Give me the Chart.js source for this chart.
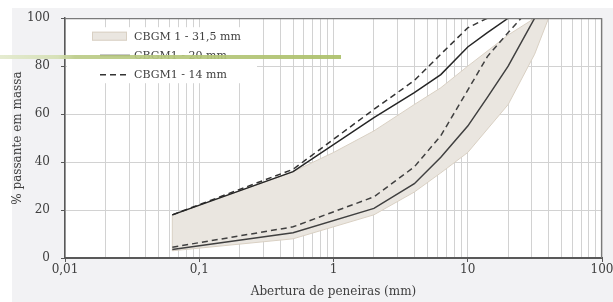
<!DOCTYPE html>
<html>
<head>
<meta charset="utf-8">
<script src="https://cdn.jsdelivr.net/npm/chart.js@4.4.0/dist/chart.umd.min.js"></script>
<style>
  html, body { margin: 0; padding: 0; background: #ffffff; }
  #wrap { position: relative; width: 613px; height: 302px; overflow: hidden; }
  #panel { position: absolute; left: 12px; top: 8px; right: 0; bottom: 0; background: #f2f2f4; }
  #chart { position: absolute; left: 0; top: 0; }
  #marker { position: absolute; left: 0; top: 55px; width: 341px; height: 4px;
            background: linear-gradient(to right, #e3eacd 0%, #d5e0b2 17%, #bccc88 22%, #acc069 100%);
            opacity: 0.92; }
</style>
</head>
<body>
<div id="wrap">
  <div id="panel"></div>
  <canvas id="chart" width="613" height="302"></canvas>
  <div id="marker"></div>
</div>
<script>
// ---- data ----
// envelope CBGM 1 - 31,5 mm
const bandSieves = [0.063, 0.5, 1, 2, 4, 6.3, 10, 20, 31.5, 40];
const bandUpper  = [18, 36, 44, 53, 64, 71, 80, 93, 100, 100];
const bandLower  = [3, 8, 13, 18, 27.5, 35.5, 44, 64, 85, 100];

// CBGM1 - 20 mm (two limit curves, solid)
const sieves20 = [0.063, 0.5, 2, 4, 6.3, 10, 14, 20, 31.5];
const upper20  = [18, 36, 58.5, 69, 76.5, 88, 94, 100, 100];
const lower20  = [3.5, 10.5, 20.7, 31, 42, 55, 67, 80, 100];

// CBGM1 - 14 mm (two limit curves, dashed)
const sieves14 = [0.063, 0.5, 2, 4, 6.3, 10, 14, 20, 25];
const upper14  = [18, 37, 62, 74, 85, 96, 100, 100, 100];
const lower14  = [4.5, 13, 25.5, 38, 51, 70, 84, 94, 100];

// axis ticks
const xTickValues = [0.01, 0.1, 1, 10, 100];
const xTickLabels = ['0,01', '0,1', '1', '10', '100'];
const yTicks = [0, 20, 40, 60, 80, 100];

const legendItems = [0, 1, 3]; // datasets shown in the legend

function pts(xs, ys) {
    return xs.map((x, i) => ({ x: x, y: ys[i] }));
}

// closed outline of the envelope: upper edge out, lower edge back
const bandShape = pts(bandSieves, bandUpper)
    .concat(pts(bandSieves, bandLower).reverse())
    .concat([{ x: bandSieves[0], y: bandUpper[0] }]);

// all log grid positions 1..9 x 10^n
const gridValues = [];
for (let e = -2; e <= 1; e++) {
    for (let f = 1; f <= 9; f++) {
        gridValues.push(Number((f * Math.pow(10, e)).toPrecision(6)));
    }
}
gridValues.push(100);

function xLabel(v) {
    const i = xTickValues.findIndex(t => Math.abs(t - v) < t * 1e-6);
    return i >= 0 ? xTickLabels[i] : '';
}

const serif = "'DejaVu Serif', serif";
Chart.defaults.font.family = serif;
Chart.defaults.color = '#404040';

// white plot area + top/right frame
const framePlugin = {
    id: 'frame',
    beforeDraw(chart) {
        const a = chart.chartArea, ctx = chart.ctx;
        ctx.save();
        ctx.fillStyle = '#ffffff';
        ctx.fillRect(a.left, a.top, a.right - a.left, a.bottom - a.top);
        ctx.restore();
    },
    afterDraw(chart) {
        const a = chart.chartArea, ctx = chart.ctx;
        ctx.save();
        ctx.strokeStyle = '#7a7a7a';
        ctx.lineWidth = 1.2;
        ctx.beginPath();
        ctx.moveTo(a.left, a.top + 0.5);
        ctx.lineTo(a.right - 0.5, a.top + 0.5);
        ctx.lineTo(a.right - 0.5, a.bottom);
        ctx.stroke();
        ctx.restore();
    }
};

// legend drawn inside the plot, top left
const legendPlugin = {
    id: 'innerLegend',
    afterDraw(chart) {
        const a = chart.chartArea, ctx = chart.ctx;
        ctx.save();
        ctx.fillStyle = '#ffffff';
        ctx.fillRect(a.left + 2, a.top + 9, 190, 56);
        legendItems.forEach((idx, i) => {
            const ds = chart.data.datasets[idx];
            const y = a.top + 18 + i * 19.3;
            if (ds.fill) {
                ctx.fillStyle = ds.backgroundColor;
                ctx.fillRect(a.left + 27, y - 4.5, 35, 9);
                ctx.strokeStyle = ds.borderColor;
                ctx.lineWidth = 1;
                ctx.strokeRect(a.left + 27.5, y - 4, 34, 8);
            } else {
                ctx.strokeStyle = ds.borderColor;
                ctx.lineWidth = ds.borderWidth;
                ctx.setLineDash(ds.borderDash || []);
                ctx.beginPath();
                ctx.moveTo(a.left + 35, y);
                ctx.lineTo(a.left + 65, y);
                ctx.stroke();
                ctx.setLineDash([]);
            }
            ctx.fillStyle = '#404040';
            ctx.font = '11px ' + serif;
            ctx.textBaseline = 'middle';
            ctx.fillText(ds.label, a.left + 69, y + 0.5);
        });
        ctx.restore();
    }
};

const chart = new Chart(document.getElementById('chart'), {
    type: 'line',
    data: {
        datasets: [{
            label: 'CBGM 1 - 31,5 mm',
            data: bandShape,
            fill: 'shape',
            backgroundColor: '#eae6e0',
            borderColor: '#d9d0c3',
            borderWidth: 1,
            pointRadius: 0,
            order: 10
        }, {
            label: 'CBGM1 - 20 mm',
            data: pts(sieves20, upper20),
            borderColor: '#262626',
            borderWidth: 1.5,
            fill: false,
            pointRadius: 0
        }, {
            label: 'CBGM1 - 20 mm',
            data: pts(sieves20, lower20),
            borderColor: '#404040',
            borderWidth: 1.5,
            fill: false,
            pointRadius: 0
        }, {
            label: 'CBGM1 - 14 mm',
            data: pts(sieves14, upper14),
            borderColor: '#333333',
            borderWidth: 1.5,
            borderDash: [6, 4],
            fill: false,
            pointRadius: 0
        }, {
            label: 'CBGM1 - 14 mm',
            data: pts(sieves14, lower14),
            borderColor: '#404040',
            borderWidth: 1.5,
            borderDash: [6, 4],
            fill: false,
            pointRadius: 0
        }]
    },
    options: {
        responsive: false,
        animation: false,
        devicePixelRatio: 1,
        layout: { padding: { left: 0, right: 11, top: 18, bottom: 0 } },
        plugins: {
            legend: { display: false },
            tooltip: { enabled: false }
        },
        scales: {
            x: {
                type: 'logarithmic',
                min: 0.01,
                max: 100,
                afterBuildTicks(scale) {
                    scale.ticks = gridValues.map(v => ({ value: v }));
                },
                afterFit(scale) {
                    scale.height = 44;
                    scale.paddingLeft = 0;
                    scale.paddingRight = 0;
                },
                grid: {
                    color: '#d2d2d2',
                    lineWidth: 1,
                    tickLength: 4,
                    tickColor: (c) => (c.tick && xLabel(c.tick.value) !== '') ? '#595959' : 'rgba(0,0,0,0)'
                },
                border: { color: '#595959', width: 2 },
                ticks: {
                    autoSkip: false,
                    maxRotation: 0,
                    padding: 1,
                    font: { size: 12 },
                    callback: (v) => xLabel(v)
                },
                title: {
                    display: true,
                    text: 'Abertura de peneiras (mm)',
                    font: { size: 12 },
                    padding: { top: 0, bottom: 3 }
                }
            },
            y: {
                min: 0,
                max: 100,
                afterBuildTicks(scale) {
                    scale.ticks = yTicks.map(v => ({ value: v }));
                },
                afterFit(scale) {
                    scale.width = 65;
                },
                grid: {
                    color: '#d2d2d2',
                    lineWidth: 1,
                    tickLength: 4,
                    tickColor: '#595959'
                },
                border: { color: '#595959', width: 1.5 },
                ticks: {
                    padding: 11,
                    font: { size: 12 }
                },
                title: {
                    display: true,
                    text: '% passante em massa',
                    font: { size: 12 },
                    padding: { top: 11, bottom: 0 }
                }
            }
        }
    },
    plugins: [framePlugin, legendPlugin]
});
</script>
</body>
</html>
